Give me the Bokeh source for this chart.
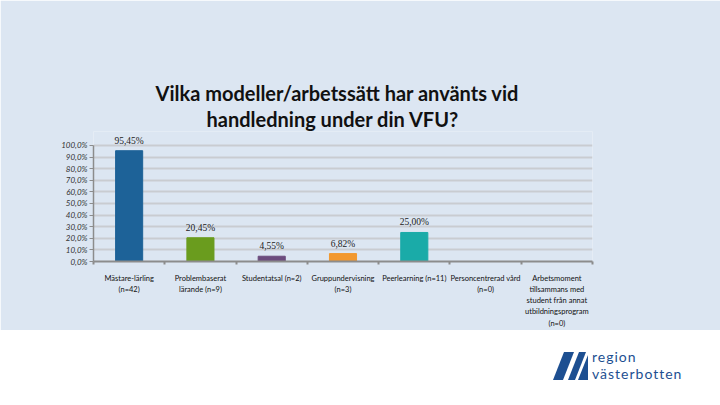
from bokeh.plotting import figure
from bokeh.models import (Range1d, LinearAxis, FixedTicker, ColumnDataSource, LabelSet, Title, Div)
from bokeh.layouts import column
from bokeh.embed import file_html
from bokeh.resources import INLINE

categories = ["Mästare-lärling\n(n=42)", "Problembaserat\nlärande (n=9)", "Studentatsal (n=2)",
              "Gruppundervisning\n(n=3)", "Peerlearning (n=11)", "Personcentrerad vård\n(n=0)",
              "Arbetsmoment\ntillsammans med\nstudent från annat\nutbildningsprogram\n(n=0)"]
values = [95.45, 20.45, 4.55, 6.82, 25.00, 0.0, 0.0]
value_labels = ["95,45%", "20,45%", "4,55%", "6,82%", "25,00%", "", ""]
bar_colors = ["#1d6298", "#6a9c1e", "#6b4b7d", "#f2982f", "#1aaba8", "#1aaba8", "#1aaba8"]
y_ticks = [0, 10, 20, 30, 40, 50, 60, 70, 80, 90, 100]
y_tick_labels = ["0,0%", "10,0%", "20,0%", "30,0%", "40,0%", "50,0%", "60,0%", "70,0%",
                 "80,0%", "90,0%", "100,0%"]
title_line1 = "Vilka modeller/arbetssätt har använts vid"
title_line2 = "handledning under din VFU?"
logo_lines = ["region", "västerbotten"]

BG = "#dce6f2"
FONT = "Lato"
n = len(categories)
centers = [i + 0.5 for i in range(n)]
bounds = list(range(n + 1))

p = figure(x_range=Range1d(0, n), y_range=Range1d(0, 112), title=None,
           width=720, height=330, output_backend="svg", toolbar_location=None,
           x_axis_location=None, y_axis_location=None,
           min_border_left=93, min_border_right=128, min_border_top=131, min_border_bottom=68,
           background_fill_color=BG, border_fill_color=BG, outline_line_color=None)

src = ColumnDataSource(dict(x=centers, top=values, lab=value_labels, color=bar_colors))
p.vbar(x="x", top="top", width=0.38, color="color", source=src)

p.xgrid.grid_line_color = None
p.ygrid.grid_line_color = "#c9ccd1"
p.ygrid.grid_line_width = 2
p.ygrid.ticker = FixedTicker(ticks=y_ticks)

yax = LinearAxis(ticker=FixedTicker(ticks=y_ticks), bounds=(0, 100))
yax.major_label_overrides = {t: l for t, l in zip(y_ticks, y_tick_labels)}
yax.major_label_text_font = FONT
yax.major_label_text_font_style = "italic"
yax.major_label_text_font_size = "8px"
yax.major_label_text_color = "#333333"
yax.axis_line_color = "#8c8c8c"
yax.axis_line_width = 1.5
yax.major_tick_line_color = "#8c8c8c"
yax.major_tick_out = 4
yax.major_tick_in = 0
yax.minor_tick_line_color = None
yax.major_label_standoff = 2
p.add_layout(yax, "left")

xax = LinearAxis(ticker=FixedTicker(ticks=centers, minor_ticks=bounds))
xax.major_label_overrides = {c: l for c, l in zip(centers, categories)}
xax.axis_line_color = "#8c8c8c"
xax.axis_line_width = 2
xax.major_tick_line_color = None
xax.minor_tick_line_color = "#8c8c8c"
xax.minor_tick_line_width = 2
xax.minor_tick_out = 3
xax.minor_tick_in = 0
xax.major_label_standoff = 6
xax.major_label_text_font = FONT
xax.major_label_text_font_size = "7.5px"
xax.major_label_text_color = "#111111"
xax.major_label_text_line_height = 1.25
p.add_layout(xax, "below")

labels = LabelSet(x="x", y="top", text="lab", source=src, text_align="center",
                  text_baseline="bottom", y_offset=5, text_font=FONT,
                  text_font_size="9.5px", text_color="#222222")
p.add_layout(labels)

for txt, so, off in ((title_line2, 1, 113), (title_line1, 0, 62)):
    p.add_layout(Title(text=txt, align="left", offset=off, standoff=so,
                       text_font=FONT, text_font_style="bold", text_font_size="20px",
                       text_color="#111111"), "above")

logo_blue = "#1d4f91"
logo_html = (
    '<div style="position:relative;width:720px;height:75px;background:#ffffff;">'
    '<svg width="40" height="32" style="position:absolute;left:552px;top:21px;">'
    f'<polygon points="1,29 12,1 22,1 11,29" fill="{logo_blue}"/>'
    f'<polygon points="16,29 27,1 34,1 23,29" fill="{logo_blue}"/>'
    f'<polygon points="26,29 36,4 36,29" fill="{logo_blue}"/>'
    '</svg>'
    f'<div style="position:absolute;left:592px;top:18px;font-family:{FONT};font-size:14px;'
    f'line-height:17px;letter-spacing:1px;color:{logo_blue};white-space:nowrap;">'
    f'{logo_lines[0]}<br>{logo_lines[1]}</div>'
    '</div>'
)
div = Div(text=logo_html, width=720, height=75,
          styles={"background-color": "#ffffff", "margin": "0", "padding": "0"})

layout = column(p, div, spacing=0)
open("out.html", "w").write(file_html(layout, INLINE))
